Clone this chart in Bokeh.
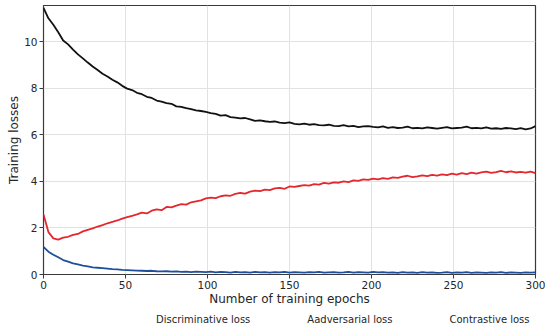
from bokeh.plotting import figure
from bokeh.layouts import column
from bokeh.models import Legend, LegendItem, FixedTicker, Range1d
from bokeh.embed import file_html
from bokeh.resources import INLINE

epochs = list(range(0, 301, 3))

discriminative = [
    1.18, 0.98, 0.85, 0.74, 0.62, 0.55, 0.48, 0.43, 0.38, 0.35,
    0.31, 0.29, 0.27, 0.25, 0.23, 0.22, 0.20, 0.19, 0.18, 0.17,
    0.16, 0.15, 0.16, 0.14, 0.13, 0.14, 0.12, 0.13, 0.11, 0.12,
    0.10, 0.12, 0.11, 0.10, 0.12, 0.09, 0.11, 0.10, 0.08, 0.11,
    0.09, 0.10, 0.08, 0.11, 0.09, 0.10, 0.08, 0.10, 0.09, 0.11,
    0.08, 0.10, 0.09, 0.08, 0.10, 0.09, 0.11, 0.08, 0.09, 0.10,
    0.08, 0.09, 0.11, 0.08, 0.10, 0.09, 0.08, 0.11, 0.09, 0.10,
    0.08, 0.09, 0.07, 0.10, 0.08, 0.09, 0.07, 0.10, 0.08, 0.09,
    0.07, 0.08, 0.10, 0.07, 0.09, 0.08, 0.10, 0.07, 0.09, 0.08,
    0.07, 0.09, 0.08, 0.10, 0.07, 0.09, 0.08, 0.07, 0.09, 0.08,
    0.09,
]

adversarial = [
    2.58, 1.82, 1.55, 1.50, 1.58, 1.62, 1.70, 1.74, 1.85, 1.92,
    1.98, 2.06, 2.12, 2.20, 2.26, 2.32, 2.40, 2.46, 2.52, 2.58,
    2.66, 2.62, 2.74, 2.80, 2.76, 2.90, 2.88, 2.96, 3.02, 3.00,
    3.10, 3.14, 3.18, 3.27, 3.30, 3.28, 3.36, 3.40, 3.38, 3.46,
    3.50, 3.47, 3.56, 3.60, 3.58, 3.64, 3.62, 3.70, 3.72, 3.68,
    3.78, 3.76, 3.80, 3.84, 3.82, 3.88, 3.86, 3.93, 3.90, 3.96,
    3.94, 4.00, 3.97, 4.04, 4.02, 4.08, 4.06, 4.12, 4.08, 4.14,
    4.11, 4.17, 4.15, 4.20, 4.24, 4.18, 4.21, 4.26, 4.22, 4.28,
    4.25, 4.30, 4.27, 4.33, 4.29, 4.35, 4.31, 4.37, 4.33, 4.38,
    4.42, 4.36, 4.40, 4.45, 4.39, 4.43, 4.38, 4.41, 4.37, 4.42,
    4.35,
]

contrastive = [
    11.45, 11.00, 10.72, 10.40, 10.05, 9.88, 9.66, 9.45, 9.28, 9.10,
    8.93, 8.78, 8.62, 8.50, 8.36, 8.25, 8.10, 7.98, 7.92, 7.80,
    7.74, 7.63, 7.58, 7.47, 7.42, 7.36, 7.33, 7.22, 7.20, 7.14,
    7.10, 7.05, 7.02, 6.98, 6.93, 6.90, 6.82, 6.84, 6.76, 6.74,
    6.70, 6.72, 6.66, 6.60, 6.62, 6.58, 6.55, 6.57, 6.52, 6.50,
    6.53, 6.47, 6.45, 6.48, 6.43, 6.46, 6.41, 6.40, 6.43, 6.38,
    6.37, 6.41, 6.36, 6.38, 6.33, 6.36, 6.37, 6.34, 6.32, 6.36,
    6.30, 6.33, 6.29, 6.31, 6.35, 6.28, 6.30, 6.27, 6.32, 6.29,
    6.26, 6.30, 6.33, 6.27, 6.29, 6.31, 6.35, 6.28, 6.30, 6.27,
    6.32, 6.26, 6.28, 6.25, 6.29, 6.27, 6.24, 6.28, 6.23, 6.27,
    6.37,
]

x_ticks = [0, 50, 100, 150, 200, 250, 300]
y_ticks = [0, 2, 4, 6, 8, 10]
series_names = ["Discriminative loss", "Aadversarial loss", "Contrastive loss"]
series_colors = ["#1f4e9b", "#e3272d", "#111111"]

FONT = "DejaVu Sans"
TEXT = "#262626"

# main chart
p = figure(
    width=550, height=308,
    output_backend="svg", toolbar_location=None,
    x_range=Range1d(0, 300), y_range=Range1d(0, 11.55),
    min_border_left=43, min_border_right=15, min_border_top=5, min_border_bottom=33,
)
p.background_fill_color = "white"
p.border_fill_color = "white"
p.outline_line_color = "#3a3a3a"
p.outline_line_width = 1.2

for ax in (p.xaxis[0], p.yaxis[0]):
    ax.axis_line_color = None
    ax.major_tick_line_color = "#3a3a3a"
    ax.major_tick_in = 0
    ax.major_tick_out = 4
    ax.minor_tick_line_color = None
    ax.major_label_text_font = FONT
    ax.major_label_text_font_size = "10.5px"
    ax.major_label_text_color = TEXT
    ax.axis_label_text_font = FONT
    ax.axis_label_text_font_size = "12px"
    ax.axis_label_text_font_style = "normal"
    ax.axis_label_text_color = TEXT
    ax.major_label_standoff = 2
    ax.axis_label_standoff = 0

p.xaxis[0].ticker = FixedTicker(ticks=x_ticks)
p.yaxis[0].ticker = FixedTicker(ticks=y_ticks)
p.xaxis.axis_label = "Number of training epochs"
p.yaxis.axis_label = "Training losses"

p.xgrid.ticker = FixedTicker(ticks=x_ticks)
p.ygrid.ticker = FixedTicker(ticks=y_ticks)
p.grid.grid_line_color = "#e2e2e2"
p.grid.grid_line_width = 1

for ys, col in zip([discriminative, adversarial, contrastive], series_colors):
    p.line(epochs, ys, line_color=col, line_width=1.8)

# legend strip below the chart
lg = figure(
    width=550, height=23,
    output_backend="svg", toolbar_location=None,
    x_range=Range1d(0, 1), y_range=Range1d(0, 1),
    x_axis_location=None, y_axis_location=None,
    min_border_left=0, min_border_right=0, min_border_top=0, min_border_bottom=0,
)
lg.outline_line_color = None
lg.background_fill_color = "white"
lg.border_fill_color = "white"
lg.grid.visible = False

legend_renderers = [lg.line([], [], line_color=col, line_width=1.8) for col in series_colors]

legend = Legend(
    items=[LegendItem(label=n, renderers=[r]) for n, r in zip(series_names, legend_renderers)],
    orientation="horizontal", location=(82, 6),
    border_line_color=None, background_fill_alpha=0,
    label_text_font=FONT, label_text_font_size="10px", label_text_color=TEXT,
    glyph_width=22, glyph_height=12, label_standoff=9, spacing=26,
    padding=0, margin=0, label_height=12,
)
lg.add_layout(legend, "center")

layout = column(p, lg, spacing=0)
open("out.html", "w").write(file_html(layout, INLINE))
